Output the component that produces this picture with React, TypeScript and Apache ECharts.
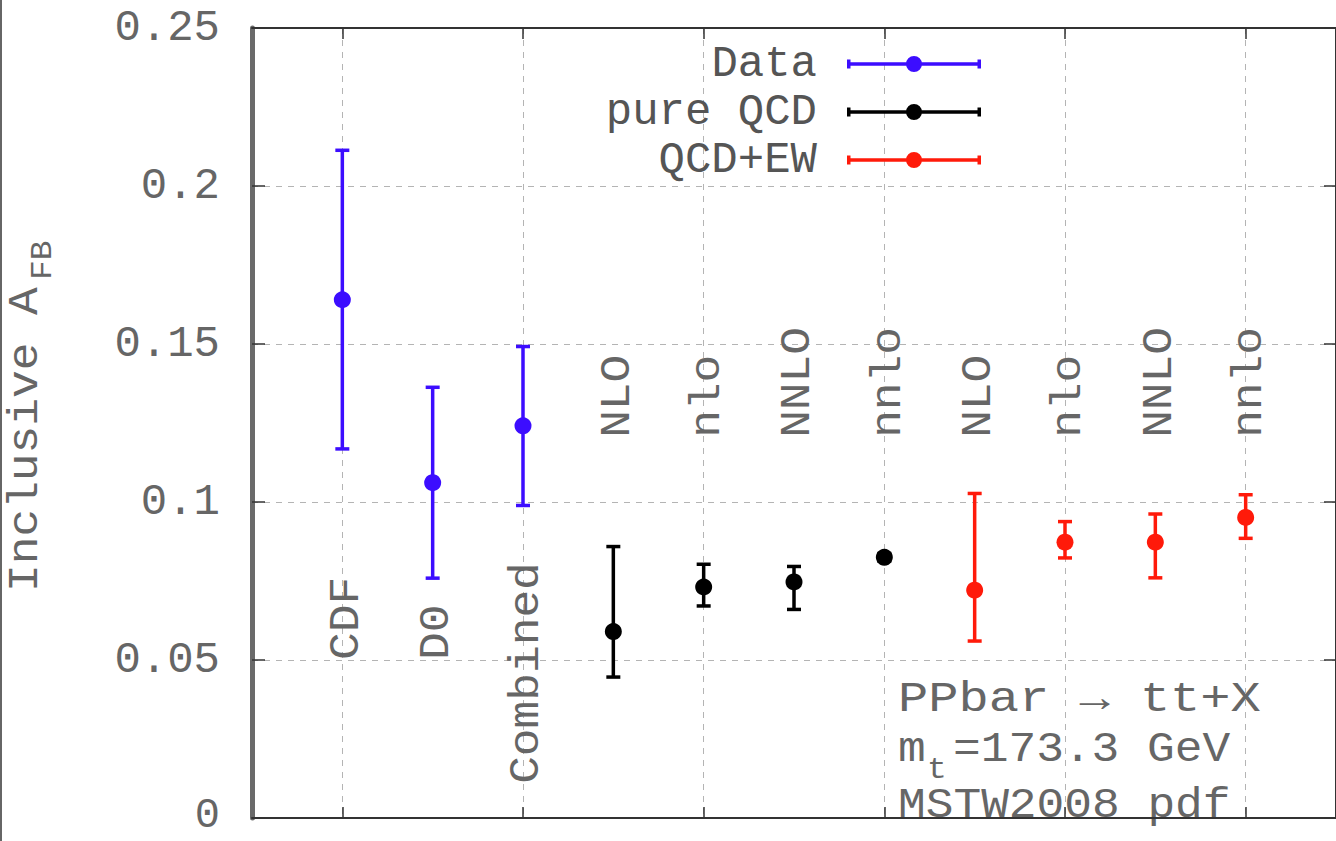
import React, { useEffect, useRef } from 'react';
import * as echarts from 'echarts';

// x slots (0 and 12 are the empty frame edges)
const xSlots = ['0', '1', '2', '3', '4', '5', '6', '7', '8', '9', '10', '11', '12'];
const yTickLabels = ['0', '0.05', '0.1', '0.15', '0.2', '0.25'];

const seriesNames = ['Data', 'pure QCD', 'QCD+EW'];
const seriesColors = ['#3c0dff', '#000000', '#ff1a0a'];

// Data (measurements)
const dataX = [1, 2, 3];
const dataY = [0.164, 0.1061, 0.1241];
const dataLow = [0.1168, 0.0759, 0.0989];
const dataHigh = [0.2113, 0.1363, 0.1492];

// pure QCD predictions
const qcdX = [4, 5, 6, 7];
const qcdY = [0.059, 0.0731, 0.0747, 0.0825];
const qcdLow = [0.0446, 0.0671, 0.066, 0.0813];
const qcdHigh = [0.0859, 0.0803, 0.0796, 0.0837];

// QCD+EW predictions
const ewX = [8, 9, 10, 11];
const ewY = [0.0721, 0.0873, 0.0873, 0.0951];
const ewLow = [0.056, 0.0823, 0.076, 0.0885];
const ewHigh = [0.1027, 0.0938, 0.0962, 0.1023];

// point labels (rotated text), start value on the y axis
const labelX = [1, 2, 3, 4, 5, 6, 7, 8, 9, 10, 11];
const labelText = ['CDF', 'D0', 'Combined', 'NLO', 'nlo', 'NNLO', 'nnlo', 'NLO', 'nlo', 'NNLO', 'nnlo'];
const labelStart = [0.05, 0.05, 0.0108, 0.1203, 0.1203, 0.1203, 0.1203, 0.1203, 0.1203, 0.1203, 0.1203];

const FONT = '"Liberation Mono", "Courier New", monospace';
const TEXT = '#666666';

const ICON =
  'path://M0,8L0.1,8Z M25,6.25H159V9.75H25Z M25,3.5H28.5V12.5H25Z M155.5,3.5H159V12.5H155.5Z M84,8A8,8 0 1 1 100,8A8,8 0 1 1 84,8Z';

function build(xs: number[], ys: number[], lo: number[], hi: number[]) {
  return xs.map((x, i) => [x, ys[i], lo[i], hi[i]]);
}

const errRender = (params: any, api: any) => {
  const x = api.value(0);
  const p = api.coord([x, api.value(1)]);
  const pl = api.coord([x, api.value(2)]);
  const ph = api.coord([x, api.value(3)]);
  const color = api.visual('color');
  const w = 7;
  const lw = 3.5;
  return {
    type: 'group',
    children: [
      { type: 'line', shape: { x1: p[0], y1: ph[1], x2: p[0], y2: pl[1] }, style: { stroke: color, lineWidth: lw } },
      { type: 'line', shape: { x1: p[0] - w, y1: ph[1], x2: p[0] + w, y2: ph[1] }, style: { stroke: color, lineWidth: lw } },
      { type: 'line', shape: { x1: p[0] - w, y1: pl[1], x2: p[0] + w, y2: pl[1] }, style: { stroke: color, lineWidth: lw } },
      { type: 'circle', shape: { cx: p[0], cy: p[1], r: 8.5 }, style: { fill: color } },
    ],
  };
};

const labelRender = (params: any, api: any) => {
  const p = api.coord([api.value(0), api.value(1)]);
  return {
    type: 'text',
    x: p[0] + 4,
    y: p[1],
    rotation: Math.PI / 2,
    scaleX: 1.1,
    style: {
      text: labelText[params.dataIndex],
      fill: TEXT,
      fontSize: 42,
      fontFamily: FONT,
      align: 'left',
      verticalAlign: 'middle',
      textAlign: 'left',
      textVerticalAlign: 'middle',
    },
  };
};

function txt(text: string, x: number, y: number, size: number, rot = 0, scaleX = 1.1) {
  return {
    type: 'text',
    x,
    y,
    rotation: rot,
    scaleX,
    style: {
      text,
      fill: TEXT,
      fontSize: size,
      fontFamily: FONT,
      align: 'left',
      verticalAlign: 'middle',
      textAlign: 'left',
      textVerticalAlign: 'middle',
    },
  };
}

export default function App() {
  const ref = useRef<HTMLDivElement>(null);
  useEffect(() => {
    document.body.style.margin = '0';
    document.body.style.overflow = 'hidden';
    const chart = echarts.init(ref.current!, undefined, { renderer: 'svg' });
    const grid = '#b4b4b4';
    const oddOnly = (i: number) => i % 2 === 1;
    const tickStyle = { color: '#333', width: 1.5 };
    chart.setOption({
      animation: false,
      backgroundColor: '#ffffff',
      grid: { left: 252, right: -8, top: 28, bottom: 18, containLabel: false },
      legend: {
        orient: 'vertical',
        align: 'right',
        right: 355,
        top: 42,
        padding: 0,
        itemGap: 4,
        itemWidth: 159,
        itemHeight: 16,
        icon: ICON,
        selectedMode: false,
        data: seriesNames,
        textStyle: { fontSize: 44, fontFamily: FONT, color: '#555', lineHeight: 44 },
      },
      xAxis: [
        {
          type: 'category',
          data: xSlots,
          boundaryGap: false,
          axisLine: { show: true, onZero: false, lineStyle: { color: '#333', width: 2 } },
          axisTick: { show: true, inside: true, length: 11, interval: oddOnly, lineStyle: tickStyle },
          axisLabel: { show: false },
          splitLine: { show: true, interval: oddOnly, lineStyle: { color: grid, width: 1, type: [6, 6] } },
        },
        {
          type: 'category',
          position: 'top',
          data: xSlots,
          boundaryGap: false,
          axisLine: { show: true, onZero: false, lineStyle: { color: '#333', width: 2 } },
          axisTick: { show: true, inside: true, length: 11, interval: oddOnly, lineStyle: tickStyle },
          axisLabel: { show: false },
          splitLine: { show: false },
        },
      ],
      yAxis: [
        {
          type: 'value',
          min: 0,
          max: 0.25,
          interval: 0.05,
          axisLine: { show: true, onZero: false, lineStyle: { color: '#6a6a6a', width: 5 } },
          axisTick: { show: true, inside: true, length: 13, lineStyle: tickStyle },
          axisLabel: {
            fontSize: 44,
            fontFamily: FONT,
            color: TEXT,
            margin: 32,
            formatter: (_v: number, idx: number) =>
              idx === 0 ? '{z|' + yTickLabels[idx] + '}' : yTickLabels[idx],
            rich: {
              z: { fontSize: 42, fontFamily: FONT, color: TEXT, lineHeight: 30, padding: [0, 0, 4, 0] },
            },
          },
          splitLine: { show: true, lineStyle: { color: grid, width: 1, type: [6, 6] } },
        },
        {
          type: 'value',
          position: 'right',
          min: 0,
          max: 0.25,
          interval: 0.05,
          axisLine: { show: true, onZero: false, lineStyle: { color: '#333', width: 2 } },
          axisTick: { show: true, inside: true, length: 12, lineStyle: tickStyle },
          axisLabel: { show: false },
          splitLine: { show: false },
        },
      ],
      series: [
        {
          name: seriesNames[0],
          type: 'custom',
          renderItem: errRender,
          itemStyle: { color: seriesColors[0] },
          encode: { x: 0, y: [1, 2, 3] },
          data: build(dataX, dataY, dataLow, dataHigh),
          z: 3,
        },
        {
          name: seriesNames[1],
          type: 'custom',
          renderItem: errRender,
          itemStyle: { color: seriesColors[1] },
          encode: { x: 0, y: [1, 2, 3] },
          data: build(qcdX, qcdY, qcdLow, qcdHigh),
          z: 3,
        },
        {
          name: seriesNames[2],
          type: 'custom',
          renderItem: errRender,
          itemStyle: { color: seriesColors[2] },
          encode: { x: 0, y: [1, 2, 3] },
          data: build(ewX, ewY, ewLow, ewHigh),
          z: 3,
        },
        {
          name: 'labels',
          type: 'custom',
          renderItem: labelRender,
          silent: true,
          clip: false,
          encode: { x: 0, y: 1 },
          data: labelX.map((x, i) => [x, labelStart[i]]),
          z: 2,
        },
      ],
      graphic: [
        { type: 'rect', left: 0, top: 0, shape: { width: 2, height: 841 }, style: { fill: '#666' } },
        txt('Inclusive A', 26, 592, 42, Math.PI / 2),
        txt('FB', 43, 280, 30, Math.PI / 2),
        txt('PPbar → tt+X', 898, 700, 42, 0, 1.2),
        txt('m', 898, 750, 42),
        txt('t', 927, 770, 30),
        txt('=173.3 GeV', 953, 750, 42),
        txt('MSTW2008 pdf', 898, 806, 42),
      ],
    });
    return () => chart.dispose();
  }, []);
  return <div ref={ref} style={{ width: 1336, height: 841 }} />;
}
